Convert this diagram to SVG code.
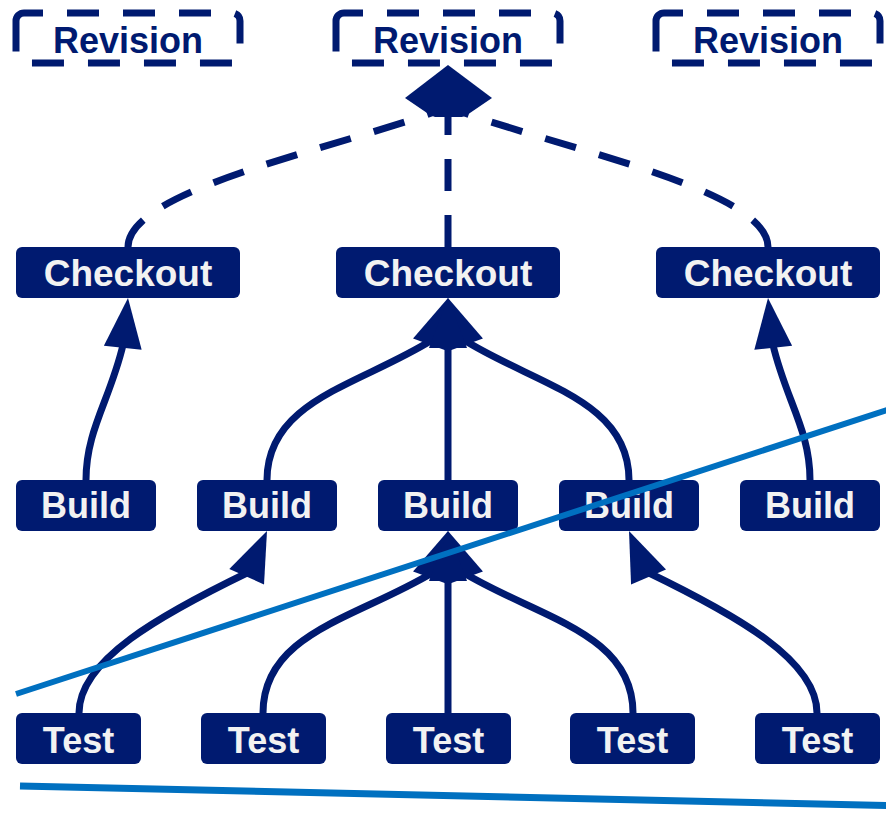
<svg xmlns="http://www.w3.org/2000/svg" xmlns:xlink="http://www.w3.org/1999/xlink" width="886" height="816" viewBox="0 0 886 816">
<style>
.rev{fill:none;stroke:#001A70;stroke-width:7;stroke-dasharray:19 24 32 24 32 24 32 24 32 24 32 24 32 24 32 24 32 24 44}
.revt{fill:#001A70;font-family:"Liberation Sans",Arial,sans-serif;font-weight:bold;font-size:36px;text-anchor:middle}
.box{fill:#001A70}
.lbl{fill:#F2F2F2;font-family:"Liberation Sans",Arial,sans-serif;font-weight:bold;font-size:36px;text-anchor:middle}
.edge{fill:none;stroke:#001A70;stroke-width:7}
.dash{fill:none;stroke:#001A70;stroke-width:7;stroke-dasharray:32 24}
.ah{fill:#001A70}
.note{stroke:#0070C0;fill:none}
</style>
<defs>
<path id="ah" d="M0,0 L19,50 L-19,50 Z"/>
<path id="revbox" d="M24,13 H232 A8,8 0 0 1 240,21 V55 A8,8 0 0 1 232,63 H24 A8,8 0 0 1 16,55 V21 A8,8 0 0 1 24,13 Z"/>
</defs>
<g id="connectors">
<path class="dash" d="M128,247 C128,190 330,150 440,110"/>
<path class="dash" d="M448,247 V100"/>
<path class="dash" d="M768,247 C768,190 566,150 456,110"/>
<polygon class="ah" points="448,65 492,98 467,115 462,117 435,117 430,115 405,98"/>
<path class="edge" d="M86,480 C86,430 110,400 123,345"/>
<path class="edge" d="M267,480 C267,400 360,385 432,340"/>
<path class="edge" d="M448,480 V340"/>
<path class="edge" d="M629,480 C629,400 536,385 464,340"/>
<path class="edge" d="M810,480 C810,430 786,400 773,345"/>
<path class="edge" d="M79,713 C79,660 160,615 249,572"/>
<path class="edge" d="M263,713 C263,633 357,618 432,573"/>
<path class="edge" d="M448,713 V573"/>
<path class="edge" d="M633,713 C633,633 539,618 464,573"/>
<path class="edge" d="M817,713 C817,660 736,615 647,572"/>
<use xlink:href="#ah" class="ah" transform="translate(128,298) rotate(6)"/>
<use xlink:href="#ah" class="ah" transform="translate(448,298) rotate(20)"/>
<use xlink:href="#ah" class="ah" transform="translate(448,298) rotate(-20)"/>
<use xlink:href="#ah" class="ah" transform="translate(448,298)"/>
<use xlink:href="#ah" class="ah" transform="translate(768,298) rotate(-6)"/>
<use xlink:href="#ah" class="ah" transform="translate(267,531) rotate(24)"/>
<use xlink:href="#ah" class="ah" transform="translate(448,531) rotate(20)"/>
<use xlink:href="#ah" class="ah" transform="translate(448,531) rotate(-20)"/>
<use xlink:href="#ah" class="ah" transform="translate(448,531)"/>
<use xlink:href="#ah" class="ah" transform="translate(629,531) rotate(-23)"/>
</g>
<g id="revision1"><use xlink:href="#revbox" class="rev"/><text class="revt" x="128" y="53">Revision</text></g>
<g id="revision2"><use xlink:href="#revbox" class="rev" transform="translate(320,0)"/><text class="revt" x="448" y="53">Revision</text></g>
<g id="revision3"><use xlink:href="#revbox" class="rev" transform="translate(640,0)"/><text class="revt" x="768" y="53">Revision</text></g>
<g id="checkout1"><rect class="box" x="16" y="247" width="224" height="51" rx="6"/><text class="lbl" x="128" y="286" style="font-size:37px">Checkout</text></g>
<g id="checkout2"><rect class="box" x="336" y="247" width="224" height="51" rx="6"/><text class="lbl" x="448" y="286" style="font-size:37px">Checkout</text></g>
<g id="checkout3"><rect class="box" x="656" y="247" width="224" height="51" rx="6"/><text class="lbl" x="768" y="286" style="font-size:37px">Checkout</text></g>
<g id="build1"><rect class="box" x="16" y="480" width="140" height="51" rx="6"/><text class="lbl" x="86" y="518">Build</text></g>
<g id="build2"><rect class="box" x="197" y="480" width="140" height="51" rx="6"/><text class="lbl" x="267" y="518">Build</text></g>
<g id="build3"><rect class="box" x="378" y="480" width="140" height="51" rx="6"/><text class="lbl" x="448" y="518">Build</text></g>
<g id="build4"><rect class="box" x="559" y="480" width="140" height="51" rx="6"/><text class="lbl" x="629" y="518">Build</text></g>
<g id="build5"><rect class="box" x="740" y="480" width="140" height="51" rx="6"/><text class="lbl" x="810" y="518">Build</text></g>
<g id="test1"><rect class="box" x="16" y="713" width="125" height="51" rx="6"/><text class="lbl" x="78.5" y="753">Test</text></g>
<g id="test2"><rect class="box" x="201" y="713" width="125" height="51" rx="6"/><text class="lbl" x="263.5" y="753">Test</text></g>
<g id="test3"><rect class="box" x="386" y="713" width="125" height="51" rx="6"/><text class="lbl" x="448.5" y="753">Test</text></g>
<g id="test4"><rect class="box" x="570" y="713" width="125" height="51" rx="6"/><text class="lbl" x="632.5" y="753">Test</text></g>
<g id="test5"><rect class="box" x="755" y="713" width="125" height="51" rx="6"/><text class="lbl" x="817.5" y="753">Test</text></g>
<g id="annotations">
<path class="note" style="stroke-width:6" d="M16,694 L890,409"/>
<path class="note" style="stroke-width:7" d="M20,786 L890,805.6"/>
</g>
</svg>
